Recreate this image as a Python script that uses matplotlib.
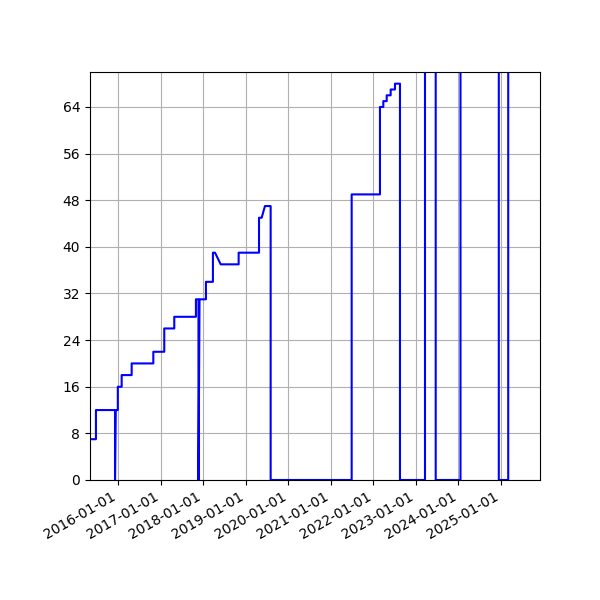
import numpy as np
import pandas as pd
import matplotlib
matplotlib.use("Agg")
import matplotlib.pyplot as plt
import matplotlib.dates as mdates

# points of the series (repeated dates give the vertical jumps)
dates = [
    "2015-05-03", "2015-06-23", "2015-06-23", "2015-12-04", "2015-12-04",
    "2015-12-10", "2015-12-28", "2015-12-28", "2016-01-30", "2016-01-30",
    "2016-04-25", "2016-04-25", "2016-10-28", "2016-10-28", "2017-01-30",
    "2017-01-30", "2017-04-26", "2017-04-26", "2017-10-29", "2017-10-29",
    "2017-11-20", "2017-11-20", "2017-11-29", "2018-01-23", "2018-01-23",
    "2018-03-24", "2018-03-24", "2018-04-11", "2018-05-30", "2018-10-31",
    "2018-10-31", "2019-04-24", "2019-04-24", "2019-05-17", "2019-06-14",
    "2019-08-02", "2019-08-02", "2021-06-28", "2021-06-28", "2022-02-26",
    "2022-02-26", "2022-03-27", "2022-03-27", "2022-04-25", "2022-04-25",
    "2022-05-29", "2022-05-29", "2022-07-05", "2022-07-05", "2022-08-17",
    "2022-08-17", "2023-03-20", "2023-03-20", "2023-06-20", "2023-06-20",
    "2024-01-19", "2024-01-19", "2024-12-13", "2024-12-13", "2025-03-04",
    "2025-03-04",
]
values = [
    7, 7, 12, 12, 0,
    12, 12, 16, 16, 18,
    18, 20, 20, 22, 22,
    26, 26, 28, 28, 31,
    31, 0, 31, 31, 34,
    34, 39, 39, 37, 37,
    39, 39, 45, 45, 47,
    47, 0, 0, 49, 49,
    64, 64, 65, 65, 66,
    66, 67, 67, 68, 68,
    0, 0, 75, 75, 0,
    0, 75, 75, 0, 0,
    75,
]

x_start = "2015-05-03"
x_end = "2025-12-02"
y_max = 70
y_ticks = np.arange(0, 65, 8)

fig, ax = plt.subplots(figsize=(6, 6), dpi=100)
ax.plot(pd.to_datetime(dates), values, color="b")
ax.set_xlim(pd.Timestamp(x_start), pd.Timestamp(x_end))
ax.set_ylim(0, y_max)
ax.set_yticks(y_ticks)
ax.xaxis.set_major_locator(mdates.YearLocator())
ax.xaxis.set_major_formatter(mdates.DateFormatter("%Y-%m-%d"))
ax.grid(True)
fig.autofmt_xdate()
fig.subplots_adjust(left=0.15)
fig.savefig("out.png")
